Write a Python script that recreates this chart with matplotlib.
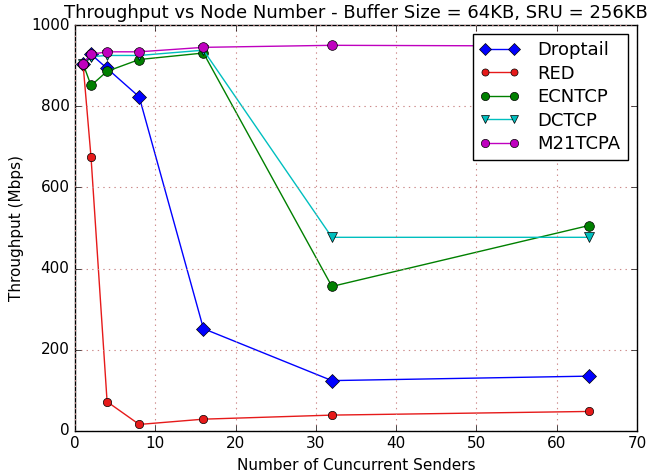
import matplotlib
matplotlib.use("Agg")
import matplotlib.pyplot as plt

senders = [1, 2, 4, 8, 16, 32, 64]
droptail = [905, 928, 893, 823, 252, 124, 135]
red = [905, 674, 72, 16, 29, 39, 48]
ecntcp = [905, 851, 886, 915, 931, 356, 506]
dctcp = [905, 922, 925, 925, 938, 477, 477]
m21tcpa = [905, 928, 934, 934, 945, 950, 948]

plt.style.use('classic')
fig = plt.figure(figsize=(6.52, 4.72), dpi=100, facecolor='white')
ax = fig.add_axes([0.115, 0.087, 0.862, 0.86])

ax.plot(senders, droptail, color=(0, 0, 1), marker='D', markersize=7, label='Droptail')
ax.plot(senders, red, color=(0.9, 0.1, 0.1), marker='o', markersize=6, label='RED')
ax.plot(senders, ecntcp, color=(0, 0.5, 0), marker='o', markersize=7, label='ECNTCP')
ax.plot(senders, dctcp, color=(0, 0.75, 0.75), marker='v', markersize=7, label='DCTCP')
ax.plot(senders, m21tcpa, color=(0.75, 0, 0.75), marker='o', markersize=7, label='M21TCPA')

ax.set_xlim(0, 70)
ax.set_ylim(0, 1000)
ax.set_xticks(range(0, 71, 10))
ax.set_yticks(range(0, 1001, 200))
ax.tick_params(labelsize=11)
ax.grid(True, color='#cc8a8a', linestyle=':', linewidth=0.8)
ax.set_xlabel('Number of Cuncurrent Senders', fontsize=11)
ax.set_ylabel('Throughput (Mbps)', fontsize=11)
ax.set_title('Throughput vs Node Number - Buffer Size = 64KB, SRU = 256KB', fontsize=13)
ax.legend(loc='upper right', numpoints=2, fontsize=13, labelspacing=0.3,
          markerscale=0.85, handlelength=2.2, handletextpad=1.0)

fig.savefig('out.png', dpi=100, facecolor='white')
